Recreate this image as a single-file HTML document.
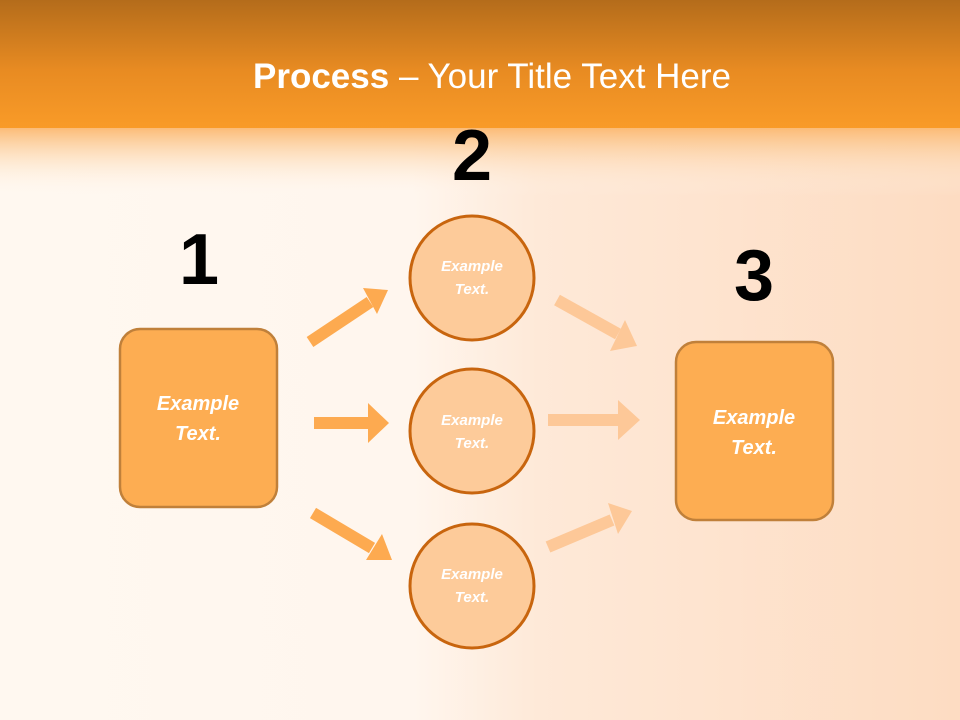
<!DOCTYPE html>
<html><head><meta charset="utf-8"><style>
html,body{margin:0;padding:0;width:960px;height:720px;overflow:hidden;}
</style></head><body>
<svg width="960" height="720" xmlns="http://www.w3.org/2000/svg" font-family="'Liberation Sans', sans-serif">
<defs>
<linearGradient id="rh" x1="0" y1="0" x2="1" y2="0">
<stop offset="0" stop-color="#fff8f0"/>
<stop offset="0.43" stop-color="#fff6ee"/>
<stop offset="0.56" stop-color="#fee9d8"/>
<stop offset="1" stop-color="#fddcc2"/>
</linearGradient>
<linearGradient id="hd" x1="0" y1="0" x2="0" y2="1">
<stop offset="0" stop-color="#b46c1b"/>
<stop offset="0.55" stop-color="#e88b22"/>
<stop offset="1" stop-color="#f99b28"/>
</linearGradient>
<linearGradient id="fade" x1="0" y1="0" x2="0" y2="1">
<stop offset="0" stop-color="#fbb870" stop-opacity="1"/>
<stop offset="1" stop-color="#fff8f0" stop-opacity="0"/>
</linearGradient>
</defs>
<rect width="960" height="720" fill="url(#rh)"/>
<rect x="0" y="126" width="960" height="70" fill="url(#fade)"/>
<rect x="0" y="0" width="960" height="128" fill="url(#hd)"/>
<text x="492" y="88" text-anchor="middle" fill="#fff" font-size="35"><tspan font-weight="bold">Process</tspan> – Your Title Text Here</text>

<g font-weight="bold" font-size="72" fill="#000" text-anchor="middle">
<text x="199" y="284">1</text>
<text x="472" y="180">2</text>
<text x="754" y="300">3</text>
</g>

<g stroke="#fdaa50" stroke-width="12" fill="#fdaa50">
<line x1="310" y1="342" x2="370" y2="302"/>
<line x1="314" y1="423" x2="368" y2="423"/>
<line x1="313" y1="513" x2="372" y2="548"/>
</g>
<g fill="#fdaa50">
<polygon points="388,290 363,288 377,314"/>
<polygon points="389,423 368,403 368,443"/>
<polygon points="392,560 382,534 366,560"/>
</g>
<g stroke="#fdc898" stroke-width="12" fill="#fdc898">
<line x1="557" y1="300" x2="618" y2="334"/>
<line x1="548" y1="420" x2="618" y2="420"/>
<line x1="548" y1="547" x2="612" y2="520"/>
</g>
<g fill="#fdc898">
<polygon points="637,346 610,351 625,320"/>
<polygon points="640,420 618,400 618,440"/>
<polygon points="632,511 608,503 618,534"/>
</g>

<g fill="#fdcb9a" stroke="#c8650e" stroke-width="3">
<circle cx="472" cy="278" r="62"/>
<circle cx="472" cy="431" r="62"/>
<circle cx="472" cy="586" r="62"/>
</g>
<g fill="#fdad52" stroke="#c0803a" stroke-width="2.5">
<rect x="120" y="329" width="157" height="178" rx="20"/>
<rect x="676" y="342" width="157" height="178" rx="20"/>
</g>
<g fill="#fff" font-style="italic" font-weight="bold" text-anchor="middle">
<text x="472" y="271" font-size="15">Example</text><text x="472" y="294" font-size="15">Text.</text>
<text x="472" y="425" font-size="15">Example</text><text x="472" y="448" font-size="15">Text.</text>
<text x="472" y="579" font-size="15">Example</text><text x="472" y="602" font-size="15">Text.</text>
<text x="198" y="410" font-size="20">Example</text><text x="198" y="440" font-size="20">Text.</text>
<text x="754" y="424" font-size="20">Example</text><text x="754" y="454" font-size="20">Text.</text>
</g>
</svg>
</body></html>
